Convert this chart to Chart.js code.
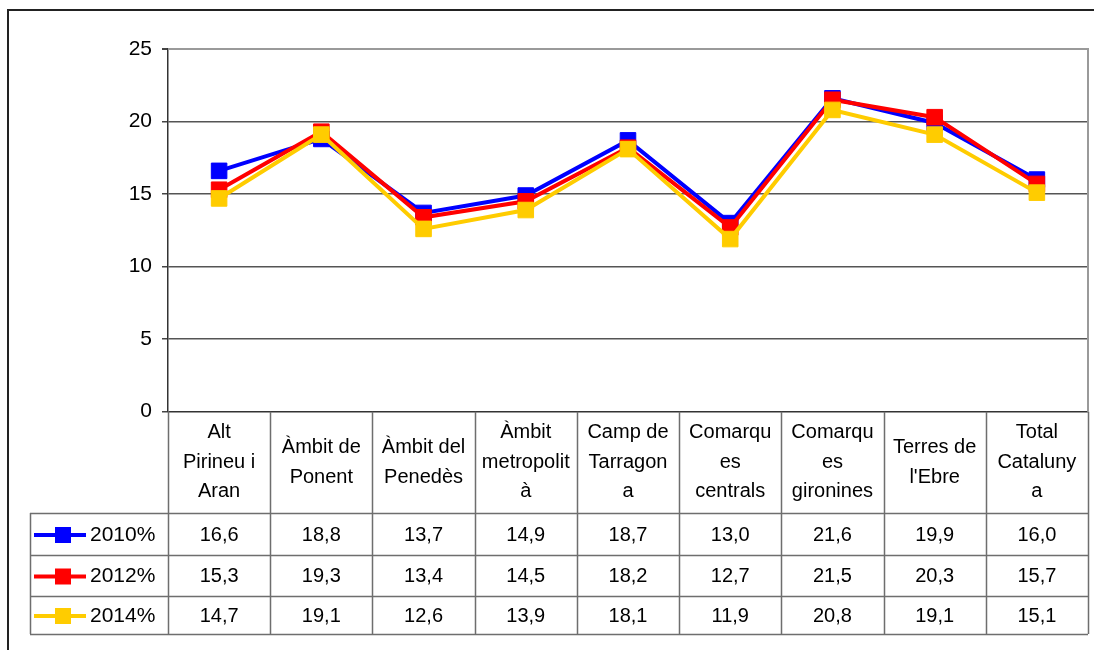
<!DOCTYPE html>
<html>
<head>
<meta charset="utf-8">
<script src="https://cdn.jsdelivr.net/npm/chart.js@4.4.1/dist/chart.umd.min.js"></script>
<style>
html,body{margin:0;padding:0;background:#fff;}
#wrap{position:relative;width:1094px;height:650px;}
</style>
</head>
<body>
<div id="wrap"><canvas id="c" width="1094" height="650"></canvas></div>
<script>
const categories = [
  ["Alt","Pirineu i","Aran"],
  ["Àmbit de","Ponent"],
  ["Àmbit del","Penedès"],
  ["Àmbit","metropolit","à"],
  ["Camp de","Tarragon","a"],
  ["Comarqu","es","centrals"],
  ["Comarqu","es","gironines"],
  ["Terres de","l'Ebre"],
  ["Total","Cataluny","a"]
];
const seriesNames = ["2010%","2012%","2014%"];
const s2010 = [16.6,18.8,13.7,14.9,18.7,13.0,21.6,19.9,16.0];
const s2012 = [15.3,19.3,13.4,14.5,18.2,12.7,21.5,20.3,15.7];
const s2014 = [14.7,19.1,12.6,13.9,18.1,11.9,20.8,19.1,15.1];
const yTicks = [0,5,10,15,20,25];

const seriesValues = [s2010, s2012, s2014];
const seriesColors = ["#0000FF","#FF0000","#FFCC00"];
const FONT = "'Liberation Sans', Arial, sans-serif";

function fmt(v){ return v.toFixed(1).replace('.', ','); }

const tablePlugin = {
  id: 'tablePlugin',
  afterDraw(chart){
    const ctx = chart.ctx;
    const ca = chart.chartArea;
    const xs = chart.scales.x;
    const n = categories.length;
    const colW = (ca.right - ca.left) / n;
    const headerBottom = 513;
    const rowBounds = [513, 555, 596, 634];
    const tableLeft = 30;
    ctx.save();
    // outer frame
    ctx.strokeStyle = '#222';
    ctx.lineWidth = 2;
    ctx.beginPath();
    ctx.moveTo(8, 650); ctx.lineTo(8, 10); ctx.lineTo(1094, 10);
    ctx.stroke();
    // plot area top/right border
    ctx.strokeStyle = '#9a9a9a';
    ctx.lineWidth = 2;
    ctx.beginPath();
    ctx.moveTo(ca.left, ca.top); ctx.lineTo(ca.right, ca.top); ctx.lineTo(ca.right, ca.bottom);
    ctx.stroke();
    // table grid
    ctx.strokeStyle = '#6e6e6e';
    ctx.lineWidth = 1.5;
    ctx.beginPath();
    for (let i = 0; i <= n; i++) {
      const x = Math.round(ca.left + i * colW) + 0.5;
      ctx.moveTo(x, ca.bottom); ctx.lineTo(x, rowBounds[rowBounds.length-1]);
    }
    rowBounds.forEach(y => { ctx.moveTo(tableLeft, y + 0.5); ctx.lineTo(ca.right, y + 0.5); });
    ctx.moveTo(tableLeft + 0.5, rowBounds[0]); ctx.lineTo(tableLeft + 0.5, rowBounds[rowBounds.length-1]);
    ctx.stroke();
    // header labels
    ctx.fillStyle = '#000';
    ctx.font = '20px ' + FONT;
    ctx.textAlign = 'center';
    ctx.textBaseline = 'middle';
    const lh = 29.5;
    const hc = (ca.bottom + headerBottom) / 2;
    categories.forEach((lines, i) => {
      const cx = xs.getPixelForValue(i);
      const y0 = hc - (lines.length - 1) * lh / 2;
      lines.forEach((t, k) => ctx.fillText(t, cx, y0 + k * lh));
    });
    // data rows
    seriesValues.forEach((vals, r) => {
      const yc = (rowBounds[r] + rowBounds[r+1]) / 2 + 1;
      ctx.font = '20px ' + FONT;
      vals.forEach((v, i) => {
        ctx.fillText(fmt(v), xs.getPixelForValue(i), yc);
      });
      // legend key
      ctx.strokeStyle = seriesColors[r];
      ctx.lineWidth = 4;
      ctx.beginPath();
      ctx.moveTo(34, yc); ctx.lineTo(86, yc);
      ctx.stroke();
      ctx.fillStyle = seriesColors[r];
      ctx.fillRect(55, yc - 8, 16, 16);
      ctx.fillStyle = '#000';
      ctx.textAlign = 'left';
      ctx.font = '21px ' + FONT;
      ctx.fillText(seriesNames[r], 90, yc);
      ctx.textAlign = 'center';
    });
    ctx.restore();
  }
};

const datasets = seriesNames.map((name, i) => ({
  label: name,
  data: seriesValues[i],
  borderColor: seriesColors[i],
  backgroundColor: seriesColors[i],
  borderWidth: 4,
  pointStyle: 'rect',
  pointRadius: 11,
  pointHoverRadius: 11,
  pointBorderWidth: 1,
  pointBorderColor: seriesColors[i],
  pointBackgroundColor: seriesColors[i],
  tension: 0,
  fill: false,
  order: 2 - i
}));

new Chart(document.getElementById('c'), {
  type: 'line',
  data: { labels: categories, datasets },
  options: {
    responsive: false,
    animation: false,
    events: [],
    layout: { autoPadding: false, padding: { left: 0, top: 49, right: 6, bottom: 238.3 } },
    plugins: { legend: { display: false }, tooltip: { enabled: false }, title: { display: false } },
    scales: {
      x: {
        type: 'category',
        offset: true,
        display: false,
        grid: { display: false }
      },
      y: {
        min: 0, max: 25,
        afterFit(scale){ scale.width = 168; },
        afterBuildTicks(scale){ scale.ticks = yTicks.map(v => ({ value: v })); },
        border: { display: true, color: '#333', width: 1.5 },
        grid: {
          color: ctx => ctx.tick && ctx.tick.value === 25 ? '#9a9a9a' : (ctx.tick && ctx.tick.value === 0 ? '#333' : '#555'),
          lineWidth: ctx => ctx.tick && ctx.tick.value === 25 ? 2 : 1.5,
          tickColor: '#444',
          tickLength: 6,
          drawTicks: true
        },
        ticks: {
          color: '#000',
          padding: 10,
          font: { family: FONT, size: 21 },
          callback: v => String(v)
        }
      }
    }
  },
  plugins: [tablePlugin]
});
</script>
</body>
</html>
